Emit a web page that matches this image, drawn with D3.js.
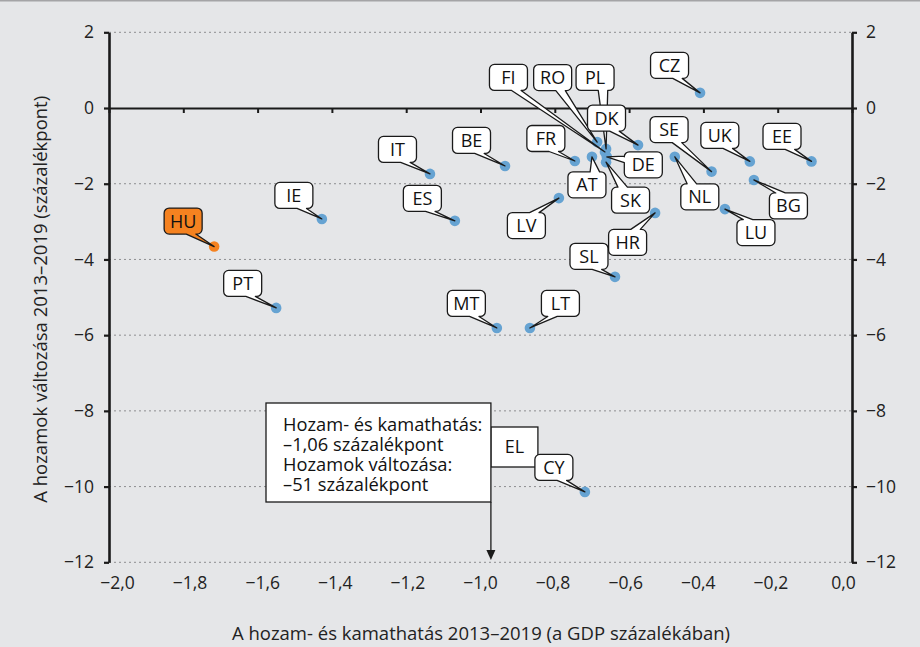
<!DOCTYPE html>
<html><head><meta charset="utf-8">
<script src="https://cdn.jsdelivr.net/npm/d3@7"></script>
<style>
html,body{margin:0;padding:0;background:#e5e6e8;}
svg{display:block;font-family:"Open Sans",sans-serif;}
</style></head><body>
<svg id="c" width="920" height="647"></svg>
<script>
// ---------- DATA ----------
const countries   = ["FI","RO","PL","HU","PT","IE","IT","ES","BE","MT","LT","LV","FR","SL","CY","HR","CZ","SE","NL","UK","EE","BG","LU","AT","SK","DE","DK"];
const yieldImpact = [-0.665,-0.686,-0.662,-1.717,-1.55,-1.427,-1.136,-1.069,-0.934,-0.956,-0.867,-0.789,-0.746,-0.638,-0.719,-0.530,-0.409,-0.378,-0.477,-0.275,-0.109,-0.264,-0.342,-0.700,-0.662,-0.660,-0.576];
const yieldChange = [-1.16,-0.90,-1.08,-3.66,-5.28,-2.93,-1.74,-2.98,-1.53,-5.81,-5.81,-2.38,-1.40,-4.46,-10.14,-2.77,0.40,-1.68,-1.29,-1.41,-1.41,-1.90,-2.67,-1.29,-1.43,-1.29,-0.98];
const highlighted = "HU";
const xTicks = [-2,-1.8,-1.6,-1.4,-1.2,-1,-0.8,-0.6,-0.4,-0.2,0];
const yTicks = [2,0,-2,-4,-6,-8,-10,-12];
const xTitle = "A hozam- és kamathatás 2013–2019 (a GDP százalékában)";
const yTitle = "A hozamok változása 2013–2019 (százalékpont)";
const noteLines = ["Hozam- és kamathatás:","–1,06 százalékpont","Hozamok változása:","–51 százalékpont"];
const noteTag = "EL";
const noteArrowX = -0.972;

// ---------- LAYOUT ----------
const labelOffset = {
  HU:[-31,-25.5], PT:[-33.5,-24.5], IE:[-28,-23.5], IT:[-32.5,-24.5], ES:[-32.5,-22.5],
  BE:[-33.5,-25.5], MT:[-30.5,-24.5], LT:[30.5,-24.5], LV:[-32.5,27.5], FR:[-29,-22.5],
  SL:[-26,-20.5], CY:[-31,-24.5], HR:[-27.5,29.5], CZ:[-30.5,-27.5], DK:[-31.5,-27],
  SE:[-42.5,-42], NL:[25,40], UK:[-30,-26], EE:[-29.5,-25], BG:[34.5,26], LU:[31,23.5],
  RO:[-44.5,-64.5], FI:[-96.5,-74.5], PL:[-11,-71.5], AT:[-5,28], DE:[36.5,8], SK:[24.5,38]
};
const W = 920, H = 647;
const pL = 109, pR = 852, pT = 32.3, pB = 562.3;
const blue = "#66a3d2", orange = "#f58220";

const loc = d3.formatLocale({decimal:",", thousands:" ", grouping:[3], currency:["",""], minus:"−"});
const fx = loc.format(".1f"), fy = loc.format("d");

const svg = d3.select("#c");
svg.append("rect").attr("width",W).attr("height",H).attr("fill","#e5e6e8");
svg.append("line").attr("x1",0).attr("x2",W).attr("y1",0.75).attr("y2",0.75)
   .attr("stroke","#a4a4a6").attr("stroke-width",1.5);

const x = d3.scaleLinear().domain([-2,0]).range([pL,pR]);
const xLab = d3.scaleLinear().domain([-2,0]).range([117,843]);
const y = d3.scaleLinear().domain([-12,2]).range([pB,pT]);

// gridlines
svg.append("g").selectAll("line").data(yTicks.filter(d=>d!==0)).join("line")
  .attr("x1",pL).attr("x2",pR).attr("y1",d=>y(d)).attr("y2",d=>y(d))
  .attr("stroke","#8e8e90").attr("stroke-width",1).attr("stroke-dasharray","2,3");

// zero line with ticks
const gx = svg.append("g").attr("transform",`translate(0,${y(0)})`)
  .call(d3.axisBottom(x).tickValues(xTicks).tickSize(5).tickSizeOuter(0).tickFormat(""));
gx.select(".domain").attr("stroke","#1a1a1a").attr("stroke-width",2);
gx.selectAll(".tick line").attr("stroke","#1a1a1a").attr("stroke-width",2);

// x tick labels
const gxl = svg.append("g").attr("transform",`translate(0,${pB+10})`)
  .call(d3.axisBottom(xLab).tickValues(xTicks).tickSize(0).tickPadding(0).tickFormat(fx));
gxl.select(".domain").remove();
gxl.selectAll("text").attr("font-family","Open Sans").attr("font-size",17.5).attr("fill","#222").attr("dy","0.95em");

// y axes
function styleY(g){
  g.select(".domain").attr("stroke","#1a1a1a").attr("stroke-width",2.6);
  g.selectAll(".tick line").attr("stroke","#1a1a1a").attr("stroke-width",2.2);
  g.selectAll("text").attr("font-family","Open Sans").attr("font-size",17.5).attr("fill","#222");
}
svg.append("g").attr("transform",`translate(${pL},0)`)
  .call(d3.axisLeft(y).tickValues(yTicks).tickSize(5).tickSizeOuter(0).tickPadding(10).tickFormat(fy)).call(styleY);
svg.append("g").attr("transform",`translate(${pR},0)`)
  .call(d3.axisRight(y).tickValues(yTicks).tickSize(5).tickSizeOuter(0).tickPadding(9).tickFormat(fy)).call(styleY);

// titles
svg.append("text").attr("x",481).attr("y",640).attr("text-anchor","middle")
  .attr("font-size",18.5).attr("fill","#222").text(xTitle);
svg.append("text").attr("transform",`translate(47,${(pT+pB)/2+2}) rotate(-90)`).attr("text-anchor","middle")
  .attr("font-size",18.5).attr("fill","#222").text(yTitle);

// points
const pts = countries.map((c,i)=>({c, x:yieldImpact[i], y:yieldChange[i]}));
svg.append("g").selectAll("circle").data(pts).join("circle")
  .attr("cx",d=>x(d.x)).attr("cy",d=>y(d.y)).attr("r",5.3)
  .attr("fill",d=>d.c===highlighted?orange:blue);

// annotation (EL)
const ax = x(noteArrowX);
const nb = {x0:266, y0:403, x1:ax, y1:502};
svg.append("rect").attr("x",ax).attr("y",427).attr("width",47).attr("height",40)
  .attr("fill","#fff").attr("stroke","#1a1a1a").attr("stroke-width",1.3);
svg.append("text").attr("x",ax+23.5).attr("y",447).attr("dy","0.36em").attr("text-anchor","middle")
  .attr("font-size",18).attr("fill","#111").text(noteTag);
svg.append("rect").attr("x",nb.x0).attr("y",nb.y0).attr("width",nb.x1-nb.x0).attr("height",nb.y1-nb.y0)
  .attr("fill","#fff").attr("stroke","#1a1a1a").attr("stroke-width",1.3);
svg.append("g").selectAll("text").data(noteLines).join("text")
  .attr("x",283).attr("y",(d,i)=>431+i*20).attr("font-size",18.3).attr("fill","#111").text(d=>d);
svg.append("line").attr("x1",ax).attr("x2",ax).attr("y1",nb.y1).attr("y2",552)
  .attr("stroke","#1a1a1a").attr("stroke-width",1.3);
svg.append("path").attr("d",`M${ax-4.5},550L${ax+4.5},550L${ax},560Z`).attr("fill","#1a1a1a");

// callout labels
function calloutPath(bx,by,w,h,tx,ty,r){
  const cx=bx+w/2, cy=by+h/2, dx=tx-cx, dy=ty-cy;
  const vert = Math.abs(dy) - Math.abs(dx*h/w) > 0;
  const xa = dx>0 ? bx+7*w/12 : bx+2*w/12, xb = dx>0 ? bx+10*w/12 : bx+5*w/12;
  const ya = dy>0 ? by+7*h/12 : by+2*h/12, yb = dy>0 ? by+10*h/12 : by+5*h/12;
  const R=bx+w, B=by+h, p=d3.path();
  p.moveTo(bx+r,by);
  if (vert && dy<0){ p.lineTo(xa,by); p.lineTo(tx,ty); p.lineTo(xb,by); }
  p.lineTo(R-r,by); p.arcTo(R,by,R,by+r,r);
  if (!vert && dx>0){ p.lineTo(R,ya); p.lineTo(tx,ty); p.lineTo(R,yb); }
  p.lineTo(R,B-r); p.arcTo(R,B,R-r,B,r);
  if (vert && dy>0){ p.lineTo(xb,B); p.lineTo(tx,ty); p.lineTo(xa,B); }
  p.lineTo(bx+r,B); p.arcTo(bx,B,bx,B-r,r);
  if (!vert && dx<0){ p.lineTo(bx,yb); p.lineTo(tx,ty); p.lineTo(bx,ya); }
  p.lineTo(bx,by+r); p.arcTo(bx,by,bx+r,by,r);
  p.closePath();
  return p.toString();
}
const bw=38, bh=26;
const lg = svg.append("g").selectAll("g").data(pts).join("g");
lg.append("path").attr("d",d=>{
    const tx=x(d.x), ty=y(d.y), o=labelOffset[d.c];
    return calloutPath(tx+o[0]-bw/2, ty+o[1]-bh/2, bw, bh, tx, ty, 5);
  })
  .attr("fill",d=>d.c===highlighted?orange:"#fff").attr("stroke","#1a1a1a").attr("stroke-width",1.3)
  .attr("stroke-linejoin","round");
lg.append("text").attr("x",d=>x(d.x)+labelOffset[d.c][0]).attr("y",d=>y(d.y)+labelOffset[d.c][1])
  .attr("dy","0.36em").attr("text-anchor","middle").attr("font-size",18).attr("fill","#111").text(d=>d.c);
</script></body></html>
